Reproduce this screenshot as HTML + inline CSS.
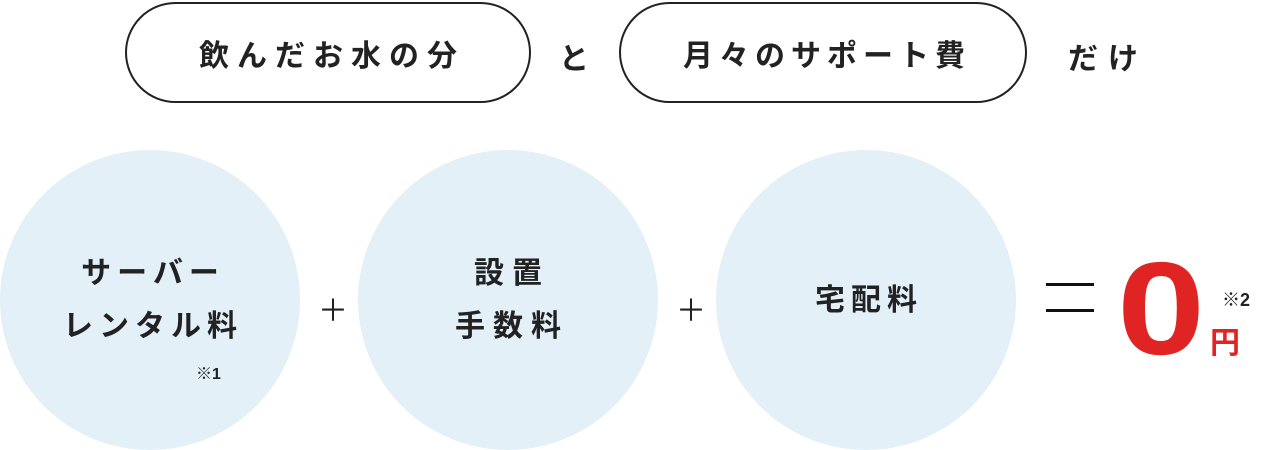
<!DOCTYPE html>
<html><head><meta charset="utf-8"><style>
body{margin:0;width:1261px;height:450px;background:#fff;position:relative;overflow:hidden;font-family:"Liberation Sans","Noto Sans CJK JP",sans-serif;color:#222;}
.a{position:absolute;}
.pill{position:absolute;border:2px solid #222;border-radius:52px;box-sizing:border-box;display:flex;align-items:center;justify-content:center;font-size:30px;font-weight:bold;letter-spacing:8px;padding-left:8px;}
.t{position:absolute;font-size:30px;font-weight:bold;}
.c{position:absolute;width:300px;height:300px;border-radius:50%;background:#e3f0f8;top:150px;display:flex;align-items:center;justify-content:center;text-align:center;font-size:30px;font-weight:bold;letter-spacing:6px;line-height:53px;padding-left:6px;box-sizing:border-box;}
.plus{position:absolute;font-size:30px;top:286px;}
.eq{position:absolute;left:1046px;width:48px;height:3px;background:#111;}
</style></head><body>
<div class="pill" style="left:125px;top:2px;width:406px;height:101px;">飲んだお水の分</div>
<div class="t" style="left:559px;top:34px;">と</div>
<div class="pill" style="left:619px;top:2px;width:408px;height:101px;letter-spacing:6px;">月々のサポート費</div>
<div class="t" style="left:1068px;top:34px;letter-spacing:10px;">だけ</div>
<div class="c" style="left:0;">サーバー<br>レンタル料</div>
<div class="a" style="left:196px;top:360px;font-size:16px;font-weight:bold;">※1</div>
<div class="plus" style="left:318px;">＋</div>
<div class="c" style="left:358px;letter-spacing:8px;padding-left:8px;">設置<br>手数料</div>
<div class="plus" style="left:676px;">＋</div>
<div class="c" style="left:716px;">宅配料</div>
<div class="eq" style="top:283px;"></div>
<div class="eq" style="top:309px;"></div>
<div class="a" style="left:1117px;top:234px;font-size:132px;font-weight:bold;color:#e02424;line-height:150px;transform:scaleX(1.2);transform-origin:left;">0</div>
<div class="a" style="left:1210px;top:318px;font-size:30px;font-weight:bold;color:#e02424;">円</div>
<div class="a" style="left:1222px;top:286px;font-size:18px;font-weight:bold;">※2</div>
</body></html>
